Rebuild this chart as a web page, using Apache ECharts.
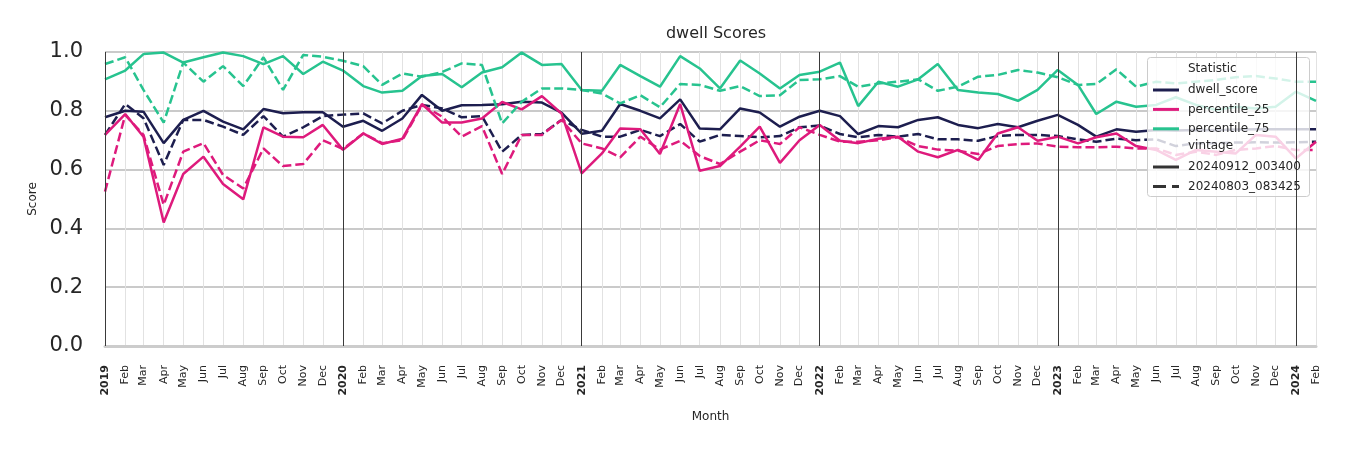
<!DOCTYPE html>
<html>
<head>
<meta charset="utf-8">
<script src="https://cdn.jsdelivr.net/npm/echarts@6/dist/echarts.min.js"></script>
<style>
html,body{margin:0;padding:0;background:#fff;}
#c{width:1350px;height:450px;}
</style>
</head>
<body>
<div id="c"></div>
<script>
// ---- data ----
const months = [
 '2019-01-01','2019-02-01','2019-03-01','2019-04-01','2019-05-01','2019-06-01','2019-07-01','2019-08-01','2019-09-01','2019-10-01','2019-11-01','2019-12-01',
 '2020-01-01','2020-02-01','2020-03-01','2020-04-01','2020-05-01','2020-06-01','2020-07-01','2020-08-01','2020-09-01','2020-10-01','2020-11-01','2020-12-01',
 '2021-01-01','2021-02-01','2021-03-01','2021-04-01','2021-05-01','2021-06-01','2021-07-01','2021-08-01','2021-09-01','2021-10-01','2021-11-01','2021-12-01',
 '2022-01-01','2022-02-01','2022-03-01','2022-04-01','2022-05-01','2022-06-01','2022-07-01','2022-08-01','2022-09-01','2022-10-01','2022-11-01','2022-12-01',
 '2023-01-01','2023-02-01','2023-03-01','2023-04-01','2023-05-01','2023-06-01','2023-07-01','2023-08-01','2023-09-01','2023-10-01','2023-11-01','2023-12-01',
 '2024-01-01','2024-02-01'
];
const yearLines = ['2019-01-01','2020-01-01','2021-01-01','2022-01-01','2023-01-01','2024-01-01'];
const monthNames = ['Jan','Feb','Mar','Apr','May','Jun','Jul','Aug','Sep','Oct','Nov','Dec'];
const yTicks = [0, 0.2, 0.4, 0.6, 0.8, 1.0];

// vintage 20240912_003400 (solid)
const dwellScoreA = [
 0.778,0.800,0.797,0.690,0.769,0.800,0.763,0.737,0.806,0.792,0.795,0.795,
 0.746,0.766,0.732,0.774,0.854,0.800,0.819,0.820,0.822,0.831,0.828,0.794,
 0.722,0.732,0.823,0.800,0.774,0.839,0.740,0.737,0.808,0.794,0.746,0.780,
 0.800,0.782,0.721,0.748,0.744,0.769,0.778,0.752,0.741,0.755,0.744,0.766,
 0.786,0.752,0.712,0.737,0.729,0.735,0.733,0.735,0.734,0.736,0.737,0.737,
 0.737,0.737
];
const p25A = [
 0.718,0.789,0.712,0.420,0.585,0.644,0.551,0.499,0.744,0.712,0.710,0.752,
 0.667,0.723,0.687,0.705,0.823,0.760,0.760,0.774,0.830,0.805,0.850,0.791,
 0.587,0.655,0.740,0.737,0.653,0.823,0.596,0.612,0.678,0.746,0.623,0.700,
 0.752,0.698,0.690,0.705,0.712,0.661,0.642,0.667,0.633,0.723,0.744,0.698,
 0.712,0.689,0.710,0.723,0.680,0.667,0.633,0.667,0.661,0.655,0.718,0.712,
 0.638,0.695
];
const p75A = [
 0.907,0.937,0.993,0.998,0.964,0.982,0.998,0.986,0.959,0.986,0.925,0.967,
 0.937,0.884,0.862,0.868,0.918,0.925,0.880,0.930,0.948,0.998,0.956,0.959,
 0.871,0.868,0.956,0.918,0.882,0.986,0.944,0.876,0.971,0.927,0.876,0.922,
 0.933,0.964,0.816,0.899,0.882,0.907,0.959,0.871,0.862,0.857,0.834,0.871,
 0.939,0.888,0.789,0.831,0.814,0.820,0.846,0.820,0.803,0.814,0.808,0.814,
 0.865,0.834
];
// vintage 20240803_083425 (dashed)
const dwellScoreB = [
 0.718,0.823,0.775,0.616,0.769,0.769,0.746,0.718,0.782,0.712,0.744,0.782,
 0.787,0.791,0.757,0.800,0.820,0.808,0.778,0.782,0.661,0.718,0.721,0.769,
 0.735,0.712,0.712,0.735,0.714,0.755,0.695,0.718,0.714,0.710,0.714,0.744,
 0.750,0.721,0.710,0.718,0.712,0.721,0.703,0.703,0.698,0.714,0.718,0.718,
 0.714,0.703,0.695,0.705,0.700,0.703,0.680,0.690,0.690,0.692,0.693,0.692,
 0.693,0.695
];
const p25B = [
 0.525,0.786,0.718,0.480,0.661,0.690,0.582,0.536,0.672,0.612,0.619,0.700,
 0.670,0.723,0.690,0.700,0.820,0.780,0.712,0.748,0.585,0.718,0.718,0.769,
 0.689,0.672,0.642,0.712,0.668,0.698,0.646,0.619,0.661,0.700,0.687,0.744,
 0.718,0.695,0.695,0.700,0.710,0.680,0.668,0.664,0.653,0.680,0.687,0.689,
 0.678,0.676,0.676,0.678,0.672,0.672,0.650,0.661,0.650,0.667,0.672,0.680,
 0.667,0.667
];
const p75B = [
 0.959,0.982,0.871,0.760,0.964,0.899,0.952,0.884,0.982,0.871,0.990,0.984,
 0.970,0.952,0.888,0.927,0.916,0.932,0.961,0.956,0.757,0.831,0.876,0.876,
 0.871,0.859,0.825,0.853,0.812,0.891,0.888,0.868,0.884,0.850,0.853,0.905,
 0.907,0.918,0.882,0.893,0.899,0.907,0.868,0.882,0.916,0.922,0.939,0.930,
 0.914,0.888,0.891,0.941,0.882,0.899,0.893,0.899,0.905,0.914,0.918,0.910,
 0.899,0.899
];

const statNames = ['dwell_score','percentile_25','percentile_75'];
const vintageNames = ['20240912_003400','20240803_083425'];

// ---- styles ----
const FONT = 'DejaVu Sans';
const TXT = '#262626';
const C_NAVY = '#1d1e4f';
const C_PINK = '#de1a7c';
const C_GREEN = '#27c38f';
const DASH = [9, 4];
const ICON_SOLID = 'path://M0,0H26V3H0Z';
const ICON_DASH = 'path://M0,0H13V3H0Z M19,0H26V3H19Z';

function pairs(vals){ return months.map((m,i)=>[m, vals[i]]); }
function dataSeries(name, vals, color, dashed){
  return {
    name: name, type: 'line', data: pairs(vals), symbol: 'none', z: 2,
    lineStyle: {color: color, width: 2.5, type: dashed ? DASH : 'solid', cap: 'butt'},
    itemStyle: {color: color}, silent: true
  };
}
function legendSeries(name, color, dashed){
  return {
    name: name, type: 'line', data: [], symbol: 'none',
    lineStyle: {color: color, width: 3, type: dashed ? DASH : 'solid'},
    itemStyle: {color: color}
  };
}
const legendText = {fontFamily: FONT, fontSize: 12, color: TXT, lineHeight: 14, padding: [0,0,0,4]};

const chart = echarts.init(document.getElementById('c'), null, {renderer: 'canvas'});

const option = {
  animation: false,
  backgroundColor: '#ffffff',
  textStyle: {fontFamily: FONT},
  title: {
    text: 'dwell Scores', left: 711, top: 21, textAlign: 'center',
    textStyle: {fontFamily: FONT, fontSize: 16, fontWeight: 'normal', color: TXT}
  },
  grid: {left: 105, right: 34, top: 52, bottom: 104, containLabel: false},
  xAxis: {
    type: 'time',
    min: months[0], max: months[months.length-1],
    splitNumber: 62,
    minInterval: 28*24*3600*1000,
    maxInterval: 31*24*3600*1000,
    name: 'Month', nameLocation: 'middle', nameGap: 65,
    nameTextStyle: {fontFamily: FONT, fontSize: 12, color: TXT},
    axisLine: {show: true, lineStyle: {color: '#cccccc', width: 3}},
    axisTick: {show: false},
    splitLine: {show: true, lineStyle: {color: '#e2e2e2', width: 1}},
    axisLabel: {
      rotate: 90, margin: 19, fontSize: 11, color: TXT, fontFamily: FONT,
      hideOverlap: false, showMinLabel: true, showMaxLabel: true,
      formatter: function(v){
        const d = new Date(v);
        const m = d.getMonth();
        return m === 0 ? '{y|' + d.getFullYear() + '}' : '{m|' + monthNames[m] + '}';
      },
      rich: {
        y: {fontWeight: 'bold', fontSize: 11, color: TXT, fontFamily: FONT},
        m: {fontSize: 11, color: TXT, fontFamily: FONT}
      }
    }
  },
  yAxis: {
    type: 'value', min: yTicks[0], max: yTicks[yTicks.length-1], interval: 0.2,
    name: 'Score', nameLocation: 'middle', nameGap: 65, nameRotate: 90,
    nameTextStyle: {fontFamily: FONT, fontSize: 12, color: TXT},
    axisLine: {show: false}, axisTick: {show: false},
    splitLine: {show: true, lineStyle: {color: '#cacaca', width: 2}},
    axisLabel: {
      fontSize: 21, color: TXT, fontFamily: FONT, margin: 22, padding: [5,0,0,0],
      formatter: v => v.toFixed(1)
    }
  },
  legend: [
    {
      data: [
        {name: statNames[0], icon: ICON_SOLID},
        {name: statNames[1], icon: ICON_SOLID},
        {name: statNames[2], icon: ICON_SOLID}
      ],
      orient: 'vertical', left: 1153, top: 83, padding: 0,
      itemWidth: 26, itemHeight: 3, itemGap: 5.4, selectedMode: false, z: 6,
      textStyle: legendText
    },
    {
      data: [
        {name: vintageNames[0], icon: ICON_SOLID},
        {name: vintageNames[1], icon: ICON_DASH}
      ],
      orient: 'vertical', left: 1153, top: 160, padding: 0,
      itemWidth: 26, itemHeight: 3, itemGap: 5.4, selectedMode: false, z: 6,
      textStyle: legendText
    }
  ],
  graphic: [
    {
      type: 'rect', z: 5, silent: true,
      shape: {x: 1147.5, y: 57.5, width: 162, height: 139, r: 3},
      style: {fill: 'rgba(255,255,255,0.8)', stroke: '#cccccc', lineWidth: 1}
    },
    {
      type: 'text', z: 7, silent: true, x: 1188, y: 69,
      style: {text: 'Statistic', fontSize: 12, fontFamily: FONT, fill: TXT, verticalAlign: 'middle'}
    },
    {
      type: 'text', z: 7, silent: true, x: 1188, y: 146,
      style: {text: 'vintage', fontSize: 12, fontFamily: FONT, fill: TXT, verticalAlign: 'middle'}
    }
  ],
  series: [
    {
      name: 'year-lines', type: 'line', data: [], z: 1, silent: true,
      markLine: {
        silent: true, symbol: 'none', label: {show: false}, animation: false,
        lineStyle: {color: '#3a3a3a', width: 1, type: 'solid'},
        data: yearLines.map(d => ({xAxis: d}))
      }
    },
    dataSeries('dwell_score · 20240912_003400', dwellScoreA, C_NAVY, false),
    dataSeries('dwell_score · 20240803_083425', dwellScoreB, C_NAVY, true),
    dataSeries('percentile_25 · 20240912_003400', p25A, C_PINK, false),
    dataSeries('percentile_25 · 20240803_083425', p25B, C_PINK, true),
    dataSeries('percentile_75 · 20240912_003400', p75A, C_GREEN, false),
    dataSeries('percentile_75 · 20240803_083425', p75B, C_GREEN, true),
    legendSeries('dwell_score', C_NAVY, false),
    legendSeries('percentile_25', C_PINK, false),
    legendSeries('percentile_75', C_GREEN, false),
    legendSeries('20240912_003400', '#333333', false),
    legendSeries('20240803_083425', '#333333', true)
  ]
};
chart.setOption(option);
</script>
</body>
</html>
